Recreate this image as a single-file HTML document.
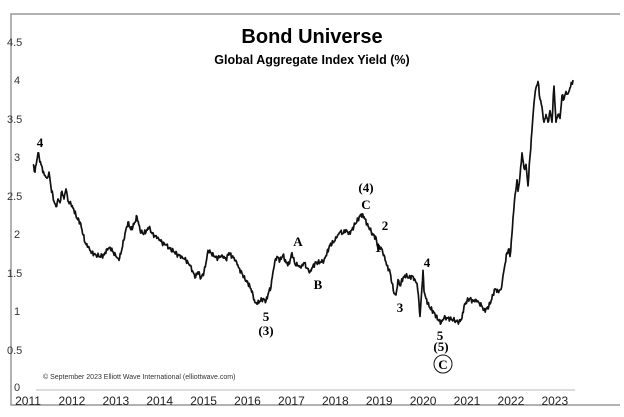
<!DOCTYPE html>
<html><head><style>
body{margin:0;background:#fff;}
svg{display:block;font-family:"Liberation Sans",Arial,sans-serif;}
.s{font-family:"Liberation Serif",serif;font-weight:bold;font-size:13px;text-anchor:middle;}
</style></head><body>
<svg width="624" height="417" viewBox="0 0 624 417" xmlns="http://www.w3.org/2000/svg">
<rect x="0" y="0" width="624" height="417" fill="#fff"/>
<polyline points="620,14 11,14 11,405 620,405" fill="none" stroke="#999" stroke-width="1.5"/>
<text x="312" y="43" font-size="20" font-weight="bold" text-anchor="middle">Bond Universe</text>
<text x="312" y="64" font-size="12.5" font-weight="bold" text-anchor="middle">Global Aggregate Index Yield (%)</text>
<g font-size="11" fill="#333">
<text x="7" y="46">4.5</text><text x="14" y="84">4</text><text x="7" y="123">3.5</text>
<text x="14" y="161">3</text><text x="7" y="200">2.5</text><text x="14" y="238">2</text>
<text x="7" y="277">1.5</text><text x="14" y="315">1</text><text x="7" y="354">0.5</text>
<text x="14" y="391">0</text>
</g>
<line x1="36" y1="390" x2="575" y2="390" stroke="#bbb" stroke-width="1"/>
<g font-size="12" fill="#222" text-anchor="middle" id="xl"></g>
<text x="43" y="379" font-size="7" fill="#333">© September 2023 Elliott Wave International (elliottwave.com)</text>
<polyline id="ln" fill="none" stroke="#111" stroke-width="1.7" stroke-linejoin="round"/>
<g class="s">
<text class="s" x="40" y="147">4</text>
<text class="s" x="366" y="192">(4)</text>
<text class="s" x="366" y="209">C</text>
<text class="s" x="385" y="230">2</text>
<text class="s" x="298" y="246">A</text>
<text class="s" x="378" y="252">1</text>
<text class="s" x="318" y="289">B</text>
<text class="s" x="427" y="267">4</text>
<text class="s" x="400" y="312">3</text>
<text class="s" x="266" y="321">5</text>
<text class="s" x="266" y="335">(3)</text>
<text class="s" x="440" y="340">5</text>
<text class="s" x="441" y="351">(5)</text>
<circle cx="443" cy="364" r="9" fill="none" stroke="#111" stroke-width="1"/>
<text class="s" x="443" y="369">C</text>
</g>
</svg>
<script>
var d=[[33,2.9],[35,2.8],[38,3.05],[41,2.9],[44,2.78],[47,2.72],[49,2.8],[51,2.6],[54,2.42],[56,2.35],[58,2.45],[60,2.4],[62,2.55],[64,2.45],[66,2.58],[68,2.42],[71,2.38],[74,2.3],[77,2.2],[80,2.15],[82,2.05],[85,1.88],[88,1.82],[92,1.75],[96,1.72],[100,1.7],[104,1.72],[107,1.8],[110,1.82],[113,1.76],[116,1.7],[119,1.65],[122,1.8],[125,2.0],[128,2.15],[131,2.05],[134,2.12],[137,2.22],[140,2.05],[143,2.0],[146,2.02],[149,2.08],[152,2.0],[155,1.97],[158,1.95],[162,1.88],[166,1.85],[170,1.8],[174,1.76],[178,1.72],[182,1.7],[186,1.65],[190,1.58],[193,1.5],[195,1.42],[198,1.5],[201,1.42],[204,1.5],[206,1.62],[208,1.78],[211,1.75],[214,1.7],[218,1.68],[222,1.72],[226,1.66],[229,1.75],[232,1.7],[236,1.65],[239,1.55],[242,1.48],[245,1.4],[248,1.35],[251,1.28],[253,1.2],[255,1.1],[257,1.08],[260,1.12],[263,1.15],[266,1.12],[269,1.25],[271,1.3],[273,1.5],[275,1.65],[277,1.7],[280,1.65],[283,1.72],[286,1.62],[289,1.6],[292,1.75],[295,1.6],[298,1.58],[301,1.55],[304,1.62],[307,1.55],[310,1.5],[313,1.58],[316,1.62],[320,1.62],[324,1.65],[327,1.75],[330,1.85],[333,1.88],[337,1.95],[340,2.02],[343,2.0],[346,2.05],[349,2.0],[352,2.05],[355,2.12],[358,2.18],[361,2.25],[364,2.22],[367,2.12],[370,2.05],[373,1.98],[376,1.95],[378,1.8],[381,1.82],[384,1.72],[387,1.58],[390,1.5],[392,1.35],[394,1.22],[396,1.2],[398,1.4],[400,1.32],[403,1.42],[406,1.45],[409,1.42],[412,1.45],[415,1.4],[417,1.35],[419,1.1],[420,0.92],[422,1.3],[423,1.52],[424,1.25],[426,1.15],[429,1.05],[432,1.0],[435,0.95],[438,0.88],[441,0.83],[444,0.9],[448,0.9],[452,0.88],[456,0.86],[459,0.85],[462,0.9],[464,1.05],[467,1.12],[470,1.15],[473,1.12],[476,1.14],[479,1.1],[482,1.05],[484,1.0],[487,1.02],[490,1.08],[493,1.2],[495,1.28],[498,1.25],[501,1.27],[503,1.45],[505,1.6],[507,1.75],[509,1.8],[510,1.7],[512,2.0],[513,2.2],[515,2.5],[517,2.7],[518,2.55],[520,2.75],[522,3.05],[524,2.85],[526,2.9],[528,2.62],[530,3.0],[532,3.35],[534,3.7],[536,3.9],[538,3.98],[540,3.75],[542,3.65],[544,3.45],[546,3.55],[548,3.45],[550,3.6],[552,3.45],[554,3.92],[556,3.45],[558,3.55],[560,3.5],[562,3.8],[564,3.75],[566,3.85],[568,3.82],[570,3.9],[573,4.0]];
var pts=[],k=0;
for(var i=0;i<d.length-1;i++){var a=d[i],b=d[i+1],n=Math.max(1,Math.round((b[0]-a[0])*1.5));
for(var j=0;j<n;j++){var t=j/n,x=a[0]+(b[0]-a[0])*t,v=a[1]+(b[1]-a[1])*t;k++;
var nz=j==0?0:0.035*Math.sin(k*2.7)*Math.cos(k*1.3);pts.push(x.toFixed(1)+','+(387-76.75*(v+nz)).toFixed(1));}}
var L=d[d.length-1];pts.push(L[0]+','+(387-76.75*L[1]).toFixed(1));
document.getElementById('ln').setAttribute('points',pts.join(' '));
var g=document.getElementById('xl'),h='';
for(var i=0;i<13;i++){h+='<text x="'+(28+43.9*i).toFixed(1)+'" y="405">'+(2011+i)+'</text>';}
g.innerHTML=h;
</script>
</body></html>
